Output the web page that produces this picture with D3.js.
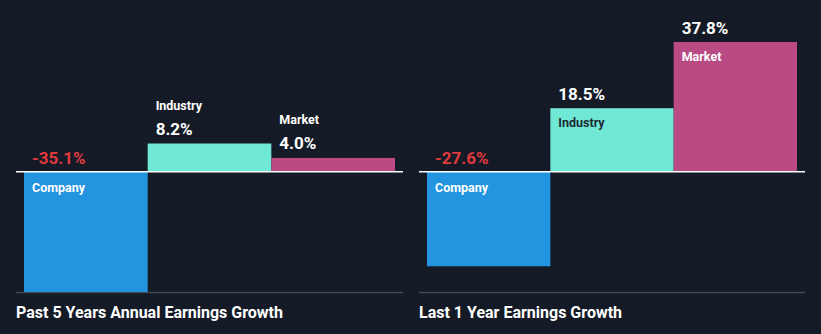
<!DOCTYPE html>
<html><head><meta charset="utf-8">
<script src="https://cdn.jsdelivr.net/npm/d3@7"></script>
<style>
html,body{margin:0;padding:0;background:#151b26;}
svg{display:block;font-family:Roboto,"Noto Sans",sans-serif;}
</style></head>
<body><svg id="c" width="821" height="334"></svg>
<script>
const categories = ["Company", "Industry", "Market"];
const past5Years = [-35.1, 8.2, 4.0];
const last1Year = [-27.6, 18.5, 37.8];
const panelTitles = ["Past 5 Years Annual Earnings Growth", "Last 1 Year Earnings Growth"];
const valueLabels5 = ["-35.1%", "8.2%", "4.0%"];
const valueLabels1 = ["-27.6%", "18.5%", "37.8%"];

const colors = {Company: "#2394df", Industry: "#6fe8d6", Market: "#b94a84"};
const insideText = {Company: "#ffffff", Industry: "#1d2a33", Market: "#ffffff"};

const svg = d3.select("#c");
const W = 821, H = 334;
svg.append("rect").attr("width", W).attr("height", H).attr("fill", "#151b26");

const y = d3.scaleLinear().domain([-35.1, 37.8]).range([292, 42]);

const panels = [
  {x0: 16, x1: 403, values: past5Years, labels: valueLabels5, title: panelTitles[0]},
  {x0: 419, x1: 805, values: last1Year, labels: valueLabels1, title: panelTitles[1]}
];

panels.forEach(p => {
  const g = svg.append("g");
  const x = d3.scaleBand().domain(categories).range([p.x0 + 8, p.x1 - 8]).padding(0);
  const data = categories.map((c, i) => ({c, v: p.values[i], label: p.labels[i]}));

  g.append("line").attr("x1", p.x0).attr("x2", p.x1).attr("y1", 292.5).attr("y2", 292.5)
    .attr("stroke", "#444a55").attr("stroke-width", 1.5);

  g.selectAll("rect.bar").data(data).enter().append("rect")
    .attr("class", "bar")
    .attr("x", d => x(d.c))
    .attr("width", x.bandwidth())
    .attr("y", d => Math.min(y(d.v), y(0)))
    .attr("height", d => Math.abs(y(d.v) - y(0)))
    .attr("fill", d => colors[d.c]);

  g.append("line").attr("x1", p.x0).attr("x2", p.x1).attr("y1", y(0)).attr("y2", y(0))
    .attr("stroke", "#ffffff").attr("stroke-width", 1.5);

  data.forEach(d => {
    const tx = x(d.c) + 8;
    const h = Math.abs(y(d.v) - y(0));
    if (d.v < 0) {
      g.append("text").attr("x", tx).attr("y", y(0) - 8)
        .attr("fill", "#e0393e").attr("font-size", 17).attr("font-weight", 700).text(d.label);
      g.append("text").attr("x", tx).attr("y", y(0) + 20)
        .attr("fill", insideText[d.c]).attr("font-size", 12.5).attr("font-weight", 700).text(d.c);
    } else if (h > 40) {
      g.append("text").attr("x", tx).attr("y", y(d.v) - 8)
        .attr("fill", "#ffffff").attr("font-size", 17).attr("font-weight", 700).text(d.label);
      g.append("text").attr("x", tx).attr("y", y(d.v) + 19)
        .attr("fill", insideText[d.c]).attr("font-size", 12.5).attr("font-weight", 700).text(d.c);
    } else {
      g.append("text").attr("x", tx).attr("y", y(d.v) - 8.5)
        .attr("fill", "#ffffff").attr("font-size", 17).attr("font-weight", 700).text(d.label);
      g.append("text").attr("x", tx).attr("y", y(d.v) - 34)
        .attr("fill", "#ffffff").attr("font-size", 12.5).attr("font-weight", 700).text(d.c);
    }
  });

  g.append("text").attr("x", p.x0).attr("y", 317.5)
    .attr("fill", "#ffffff").attr("font-size", 16).attr("font-weight", 700).text(p.title);
});
</script></body></html>
